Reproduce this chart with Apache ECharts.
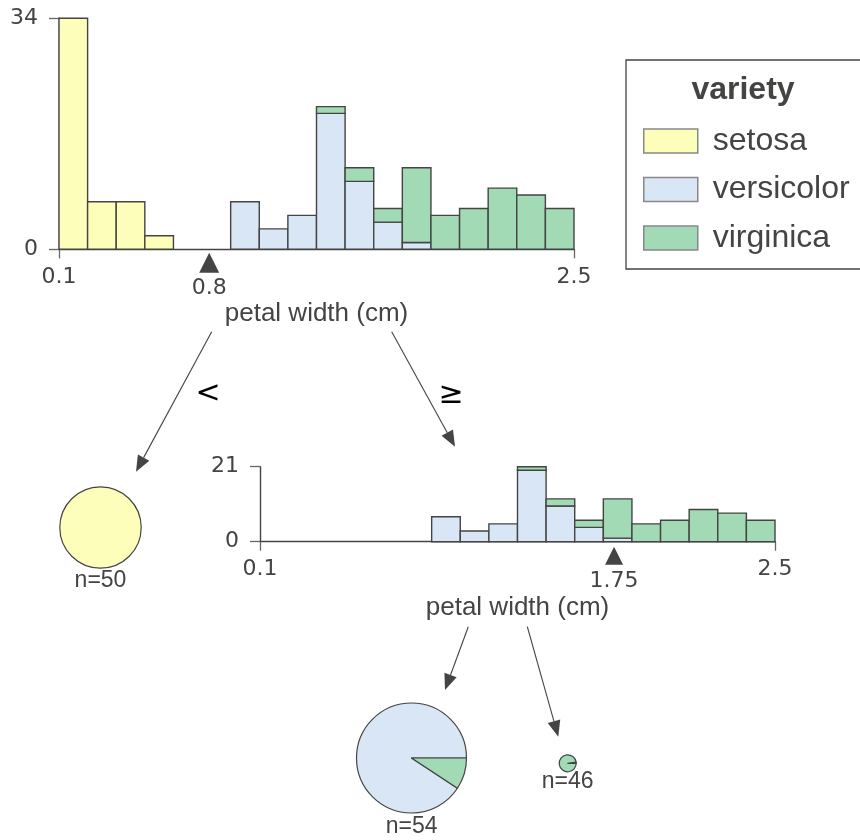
<!DOCTYPE html>
<html><head><meta charset="utf-8">
<script src="https://cdn.jsdelivr.net/npm/echarts@6/dist/echarts.min.js"></script>
<style>html,body{margin:0;padding:0;background:#fff}#c{width:860px;height:840px}</style>
</head><body><div id="c"></div>
<script>
// ---------------- data ----------------
const classNames = ['setosa', 'versicolor', 'virginica'];
const classColors = ['#FEFEBB', '#D9E6F5', '#a1dab4'];
const binRange = [0.1, 2.5];
const binCount = 18;
// root node histogram (counts per bin)
const rootSetosa     = [34, 7, 7, 2, 0, 0, 0, 0, 0, 0, 0, 0, 0, 0, 0, 0, 0, 0];
const rootVersicolor = [0, 0, 0, 0, 0, 0, 7, 3, 5, 20, 10, 4, 1, 0, 0, 0, 0, 0];
const rootVirginica  = [0, 0, 0, 0, 0, 0, 0, 0, 0, 1, 2, 2, 11, 5, 6, 9, 8, 6];
// node "petal width >= 0.8"
const node2Setosa     = [0, 0, 0, 0, 0, 0, 0, 0, 0, 0, 0, 0, 0, 0, 0, 0, 0, 0];
const node2Versicolor = [0, 0, 0, 0, 0, 0, 7, 3, 5, 20, 10, 4, 1, 0, 0, 0, 0, 0];
const node2Virginica  = [0, 0, 0, 0, 0, 0, 0, 0, 0, 1, 2, 2, 11, 5, 6, 9, 8, 6];
const rootSplit = 0.8;
const node2Split = 1.75;
const xTickValues = [0.1, 2.5];
const rootYTicks = [0, 34];
const node2YTicks = [0, 21];
// leaves: counts per class
const leafSetosa = [50, 0, 0];
const leafLow = [0, 49, 5];
const leafHigh = [0, 1, 45];
const featureName = 'petal width (cm)';
const legendTitle = 'variety';
const splitLabels = ['<', '\u2265'];

// ---------------- styling ----------------
const INK = '#444443';
const TICK_FONT = 'DejaVu Sans';
const SANS = 'Liberation Sans';
const TICK_SIZE = 22;

const binW = (binRange[1] - binRange[0]) / binCount;
const edges = [];
for (let i = 0; i <= binCount; i++) edges.push(binRange[0] + i * binW);

function stackData(arrs) {
  const out = arrs.map(() => []);
  for (let i = 0; i < binCount; i++) {
    let base = 0;
    arrs.forEach((a, c) => {
      if (a[i] > 0) out[c].push([i, base, base + a[i]]);
      base += a[i];
    });
  }
  return out;
}

function histSeries(arrs, gi) {
  const st = stackData(arrs);
  return st.map((d, c) => ({
    type: 'custom', name: classNames[c], xAxisIndex: gi, yAxisIndex: gi,
    data: d, silent: true, clip: false,
    itemStyle: { color: classColors[c] },
    renderItem: function (params, api) {
      const i = api.value(0), b = api.value(1), t = api.value(2);
      const p0 = api.coord([edges[i], b]);
      const p1 = api.coord([edges[i + 1], t]);
      return {
        type: 'rect',
        shape: { x: p0[0], y: p1[1], width: p1[0] - p0[0], height: p0[1] - p1[1] },
        style: { fill: classColors[c], stroke: INK, lineWidth: 1.4 }
      };
    }
  }));
}

function xAxisDef(gi, nameGap) {
  return {
    gridIndex: gi, type: 'value', min: binRange[0], max: binRange[1],
    axisLine: { show: true, onZero: false, lineStyle: { color: INK, width: 1.4 } },
    axisTick: { show: true, customValues: xTickValues, length: 9, lineStyle: { color: '#666', width: 1.3 } },
    axisLabel: { show: true, customValues: xTickValues, margin: 17, color: INK,
      fontFamily: TICK_FONT, fontSize: TICK_SIZE, formatter: v => String(v) },
    splitLine: { show: false },
    name: featureName, nameLocation: 'middle', nameGap: nameGap,
    nameTextStyle: { fontFamily: SANS, fontSize: 26, color: INK }
  };
}
function yAxisDef(gi, ticks) {
  return {
    gridIndex: gi, type: 'value', min: ticks[0], max: ticks[1],
    axisLine: { show: true, lineStyle: { color: INK, width: 1.4 } },
    axisTick: { show: true, customValues: ticks, length: 10, lineStyle: { color: '#666', width: 1.3 } },
    axisLabel: { show: true, customValues: ticks, margin: 21, color: INK,
      fontFamily: TICK_FONT, fontSize: TICK_SIZE },
    splitLine: { show: false }
  };
}

function splitMarker(gi, value, size, offset, dist) {
  return {
    type: 'scatter', xAxisIndex: gi, yAxisIndex: gi, silent: true, clip: false,
    data: [[value, 0]], symbol: 'triangle', symbolSize: [size, size],
    symbolOffset: [0, offset],
    itemStyle: { color: INK, opacity: 1 },
    label: { show: true, position: 'bottom', distance: dist, formatter: String(value),
      color: INK, fontFamily: TICK_FONT, fontSize: TICK_SIZE, opacity: 1 },
    z: 5
  };
}

function pieData(counts) {
  const d = [];
  counts.forEach((v, c) => { if (v > 0) d.push({ name: classNames[c], value: v, itemStyle: { color: classColors[c] } }); });
  return d;
}
function leafPie(counts, cx, cy, r) {
  return {
    type: 'pie', center: [cx, cy], radius: [0, r], startAngle: 0, clockwise: false,
    silent: true, label: { show: false }, labelLine: { show: false },
    avoidLabelOverlap: false, minAngle: 0,
    itemStyle: { borderColor: INK, borderWidth: 1.2 },
    emphasis: { disabled: true },
    data: pieData(counts)
  };
}
const sum = a => a.reduce((s, v) => s + v, 0);

// arrows: [x1, y1, x2, y2]
const arrows = [
  [211.7, 331.7, 136, 471.7],
  [391.7, 331.7, 455, 446.7],
  [468.3, 626.7, 445, 690],
  [527.3, 626.7, 558.3, 736.7]
];
const graphics = [];
arrows.forEach(a => {
  const dx = a[2] - a[0], dy = a[3] - a[1];
  const L = Math.hypot(dx, dy), ux = dx / L, uy = dy / L;
  const hl = 16, hw = 6.5;
  const bx = a[2] - ux * hl, by = a[3] - uy * hl;
  graphics.push({ type: 'line', shape: { x1: a[0], y1: a[1], x2: bx, y2: by },
    style: { stroke: INK, lineWidth: 1.1 }, silent: true });
  graphics.push({ type: 'polygon', shape: { points: [[a[2], a[3]], [bx - uy * hw, by + ux * hw], [bx + uy * hw, by - ux * hw]] },
    style: { fill: INK }, silent: true });
});
function txt(x, y, text, font, color) {
  return { type: 'text', x: x, y: y, silent: true,
    style: { text: text, font: font, fill: color, align: 'center', verticalAlign: 'middle' } };
}
graphics.push(txt(208, 394, splitLabels[0], '30px "DejaVu Sans"', '#000'));
graphics.push(txt(451, 395, splitLabels[1], '30px "DejaVu Sans"', '#000'));
graphics.push(txt(100.5, 581, 'n=' + sum(leafSetosa), '23px "Liberation Sans"', INK));
graphics.push(txt(411.7, 826.5, 'n=' + sum(leafLow), '23px "Liberation Sans"', INK));
graphics.push(txt(567.7, 781.5, 'n=' + sum(leafHigh), '23px "Liberation Sans"', INK));
graphics.push(txt(743, 90, legendTitle, 'bold 32px "Liberation Sans"', INK));
// legend frame (extends past the right edge of the page)
graphics.push({ type: 'rect', silent: true, z: -1,
  shape: { x: 626, y: 60, width: 300, height: 209 },
  style: { fill: '#fff', stroke: INK, lineWidth: 1.3 } });

const option = {
  animation: false,
  backgroundColor: '#ffffff',
  grid: [
    { left: 59, top: 18.3, width: 515, height: 231, outerBoundsMode: 'none', containLabel: false },
    { left: 260, top: 466.7, width: 515, height: 75, outerBoundsMode: 'none', containLabel: false }
  ],
  xAxis: [xAxisDef(0, 52), xAxisDef(1, 53)],
  yAxis: [yAxisDef(0, rootYTicks), yAxisDef(1, node2YTicks)],
  legend: {
    orient: 'vertical', left: 626, top: 60, selectedMode: false,
    padding: [65, 10, 15, 17],
    borderWidth: 0,
    itemWidth: 54, itemHeight: 24, itemGap: 16.5,
    textStyle: { fontFamily: SANS, fontSize: 32, color: INK, lineHeight: 32, padding: [0, 0, 0, 10] },
    data: classNames.map((n, c) => ({ name: n, icon: 'rect',
      itemStyle: { color: classColors[c], borderColor: '#888', borderWidth: 1.5 } }))
  },
  graphic: graphics,
  series: [
    ...histSeries([rootSetosa, rootVersicolor, rootVirginica], 0),
    ...histSeries([node2Setosa, node2Versicolor, node2Virginica], 1),
    splitMarker(0, rootSplit, 20, 13.4, 5),
    splitMarker(1, node2Split, 18, 14, 6),
    leafPie(leafSetosa, 100.5, 527.5, 40.7),
    leafPie(leafLow, 411.5, 758, 55),
    leafPie(leafHigh, 567.7, 763.3, 8.5)
  ]
};
const chart = echarts.init(document.getElementById('c'), null, { renderer: 'canvas' });
chart.setOption(option);
</script>
</body></html>
